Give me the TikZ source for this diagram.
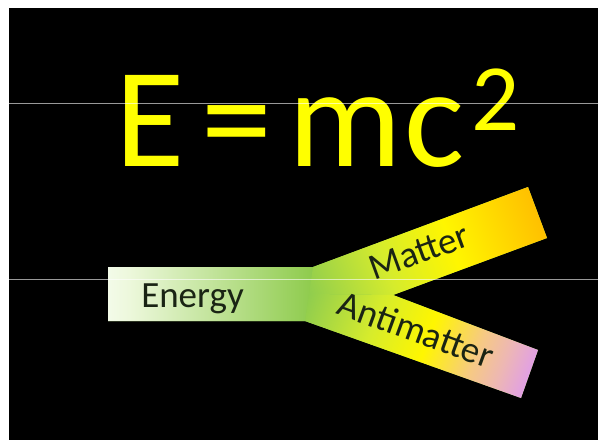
\documentclass[tikz,border=0pt]{standalone}
\usepackage{fontspec}
\setmainfont{Carlito}
\definecolor{eqyellow}{HTML}{FFFF00}
\definecolor{enA}{HTML}{F3FBE9}
\definecolor{enB}{HTML}{EDF8DC}
\definecolor{enC}{HTML}{8ECB4C}
\definecolor{jgreen}{HTML}{90CD4E}
\definecolor{ygreen}{HTML}{D6EC2C}
\definecolor{pyellow}{HTML}{FFF600}
\definecolor{orangeY}{HTML}{FFC000}
\definecolor{peach}{HTML}{F6C985}
\definecolor{rosy}{HTML}{EDB7B4}
\definecolor{lilac}{HTML}{E19FE5}
\definecolor{labeltext}{HTML}{1A2414}
\pgfdeclarehorizontalshading{energyshade}{100bp}{color(0bp)=(enA); color(25bp)=(enA); color(30bp)=(enB); color(75bp)=(enC); color(100bp)=(enC)}
\pgfdeclarehorizontalshading{mattershade}{100bp}{color(0bp)=(jgreen); color(25bp)=(jgreen); color(42bp)=(ygreen); color(56bp)=(pyellow); color(75bp)=(orangeY); color(100bp)=(orangeY)}
\pgfdeclarehorizontalshading{antishade}{100bp}{color(0bp)=(jgreen); color(25bp)=(jgreen); color(40bp)=(ygreen); color(52bp)=(pyellow); color(63bp)=(peach); color(69bp)=(rosy); color(75bp)=(lilac); color(100bp)=(lilac)}
\tikzset{
  eqtext/.style={inner sep=0pt, anchor=base, text=eqyellow},
  armlabel/.style={inner sep=0pt, anchor=base, text=labeltext, font=\fontsize{37}{37}\selectfont},
  scanline/.style={draw=white, draw opacity=0.6, line width=0.7pt}
}
\begin{document}
\begin{tikzpicture}[x=1pt,y=-1pt]
\useasboundingbox (0,0) rectangle (598,440);
\fill[white] (0,0) rectangle (598,440);
\fill[black] (9,8) rectangle (598,440);
% coordinates of the Y shape
\coordinate (eTL) at (108,267);
\coordinate (eBL) at (108,321);
\coordinate (jT) at (313,267);
\coordinate (jB) at (305,321);
\coordinate (J) at (309,294);
\coordinate (mT) at (528,187);
\coordinate (mB) at (547,238);
\coordinate (notch) at (393,295);
\coordinate (aT) at (538,350);
\coordinate (aB) at (521,398);
% base fill
\fill[jgreen] (eTL) -- (jT) -- (mT) -- (mB) -- (notch) -- (aT) -- (aB) -- (jB) -- (eBL) -- cycle;
% energy
\shade[shading=energyshade] (eTL) -- (jT) -- (J) -- (jB) -- (eBL) -- cycle;
% matter arm
\begin{scope}
\clip (jT) -- (mT) -- (mB) -- (notch) -- (J) -- cycle;
\begin{scope}[transform canvas={shift={(J)},rotate=20}]
\shade[shading=mattershade] (0,-90) rectangle (243,90);
\end{scope}
\end{scope}
% antimatter arm
\begin{scope}
\clip (J) -- (notch) -- (aT) -- (aB) -- (jB) -- cycle;
\begin{scope}[transform canvas={shift={(J)},rotate=-20}]
\shade[shading=antishade] (0,-90) rectangle (235,90);
\end{scope}
\end{scope}
% labels
\node[armlabel] (energy) at (192.5,307) {Energy};
\node[armlabel, rotate=20] (matter) at (423,263) {Matter};
\node[armlabel, rotate=-20] (anti) at (412,341.5) {Antimatter};
% equation
\node[eqtext, font=\fontsize{142}{142}\selectfont] (eqE) at (150,166.5) {E};
\node[eqtext, font=\fontsize{142}{142}\selectfont] (eqeq) at (237,166.5) {=};
\node[eqtext, font=\fontsize{142}{142}\selectfont] (eqm) at (345,166.5) {m};
\node[eqtext, font=\fontsize{142}{142}\selectfont] (eqc) at (435,166.5) {c};
\node[eqtext, font=\fontsize{95}{95}\selectfont] (eq2) at (496,130) {2};
% scan lines
\draw[scanline] (9,103) -- (598,103);
\draw[scanline] (9,279) -- (598,279);
\end{tikzpicture}
\end{document}
